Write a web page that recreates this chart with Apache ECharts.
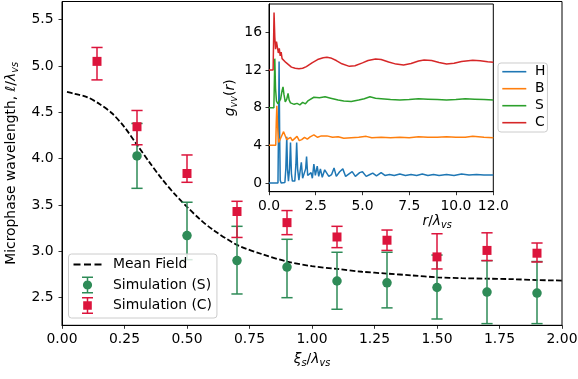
<!DOCTYPE html>
<html><head><meta charset="utf-8">
<script src="https://cdn.jsdelivr.net/npm/echarts@6/dist/echarts.min.js"></script>
<style>html,body{margin:0;padding:0;background:#fff}#c{width:578px;height:379px}</style>
</head><body><div id="c"></div>
<script>
const FONT = 'DejaVu Sans';
// ---- main panel data ----
const mfX = [0.02,0.05,0.1,0.15,0.2,0.25,0.3,0.35,0.4,0.45,0.5,0.55,0.6,0.7,0.8,0.9,1.0,1.1,1.2,1.3,1.4,1.5,1.6,1.7,1.8,1.9,2.0];
const mfY = [4.72,4.70,4.665,4.59,4.49,4.34,4.15,3.96,3.78,3.62,3.48,3.35,3.24,3.07,2.97,2.89,2.84,2.81,2.78,2.76,2.74,2.72,2.71,2.705,2.70,2.69,2.685];

const xiS = [0.3,0.5,0.7,0.9,1.1,1.3,1.5,1.7,1.9];
const ellS = [4.03,3.17,2.90,2.83,2.68,2.66,2.61,2.56,2.55];
const ellSLow = [3.68,2.91,2.54,2.50,2.375,2.39,2.27,2.22,2.22];
const ellSHigh = [4.38,3.53,3.27,3.13,2.99,2.99,2.96,2.90,2.89];

const xiC = [0.14,0.3,0.5,0.7,0.9,1.1,1.3,1.5,1.7,1.9];
const ellC = [5.05,4.345,3.84,3.43,3.31,3.155,3.12,2.94,3.01,2.98];
const ellCLow = [4.85,4.15,3.745,3.15,3.18,3.04,3.01,2.81,2.90,2.885];
const ellCHigh = [5.20,4.52,4.04,3.54,3.44,3.27,3.23,3.19,3.20,3.09];

const mainYTicks = [2.5,3.0,3.5,4.0,4.5,5.0,5.5];

// ---- inset data: g_vv(r), plotted with vertical offsets ----
const insetNames = ['H','B','S','C'];
const insetOffsets = [0,4,8,12];
const insetYTicks = [0,4,8,12,16];
const gH = [[0,0],[0.48,0],[0.51,6],[0.54,12.9],[0.57,5],[0.6,0.3],[0.65,0],[0.85,0.05],[0.9,1.5],[0.95,4.9],[0.99,1.5],[1.04,0.2],[1.1,1.5],[1.15,4.3],[1.2,1.0],[1.25,0.2],[1.38,0.2],[1.44,2.0],[1.48,4.3],[1.53,1.5],[1.6,0.3],[1.68,0.5],[1.73,2.2],[1.8,0.5],[1.9,0.4],[1.96,1.5],[2.01,2.8],[2.07,0.8],[2.15,0.6],[2.25,1.1],[2.32,0.5],[2.4,2.0],[2.48,0.8],[2.58,1.8],[2.66,0.7],[2.75,1.5],[2.85,0.6],[2.98,1.4],[3.08,1.6],[3.2,0.7],[3.35,0.9],[3.48,1.6],[3.6,0.7],[3.78,1.2],[3.95,1.5],[4.1,0.7],[4.3,1.0],[4.45,1.2],[4.62,0.7],[4.85,1.1],[5.0,1.2],[5.2,0.7],[5.4,0.9],[5.55,1.05],[5.75,0.75],[6.0,1.1],[6.2,0.8],[6.45,0.9],[6.7,0.8],[7.0,0.95],[7.3,0.8],[7.6,0.9],[7.9,0.8],[8.2,0.95],[8.5,0.8],[8.8,0.9],[9.1,0.8],[9.5,0.9],[9.9,0.8],[10.3,0.95],[10.7,0.85],[11.1,0.9],[11.5,0.85],[12.0,0.85]];
const gB = [[0,0],[0.36,0],[0.39,2.5],[0.42,4.2],[0.46,2.0],[0.52,0.3],[0.6,0.4],[0.7,1.1],[0.78,1.45],[0.85,1.1],[0.95,0.6],[1.05,0.4],[1.15,0.85],[1.25,0.5],[1.35,0.6],[1.5,0.95],[1.62,0.5],[1.75,0.6],[1.9,0.85],[2.05,0.65],[2.2,0.9],[2.4,1.1],[2.6,0.85],[2.8,1.0],[3.1,1.0],[3.4,0.85],[3.7,0.9],[4.0,0.75],[4.4,0.8],[4.8,0.85],[5.2,0.95],[5.5,0.8],[6.0,0.85],[6.5,0.8],[7.0,0.85],[7.5,0.8],[8.0,0.9],[8.5,0.85],[9.0,0.85],[9.5,0.9],[10.0,0.85],[10.5,0.85],[10.9,0.95],[11.5,0.85],[12.0,0.8]];
const gS = [[0,0],[0.26,0],[0.28,2],[0.31,5.2],[0.35,2.0],[0.4,0.7],[0.48,0.4],[0.55,0.6],[0.62,0.9],[0.7,1.8],[0.75,2.2],[0.8,1.4],[0.87,0.6],[0.95,0.9],[1.02,1.5],[1.08,0.8],[1.15,0.5],[1.25,0.6],[1.35,0.35],[1.5,0.45],[1.65,0.3],[1.8,0.55],[1.95,0.4],[2.1,0.75],[2.4,1.1],[2.7,1.05],[3.0,1.15],[3.3,1.0],[3.7,0.8],[4.0,0.7],[4.4,0.65],[4.8,0.8],[5.1,0.95],[5.4,1.15],[5.7,1.0],[6.0,0.95],[6.5,0.85],[7.0,0.8],[7.5,0.85],[8.0,0.95],[8.5,0.9],[9.0,0.85],[9.5,0.8],[10.0,0.85],[10.5,0.95],[11.0,0.9],[11.5,0.85],[12.0,0.8]];
const gC = [[0,0],[0.22,0],[0.24,0.1],[0.27,6.1],[0.31,3.5],[0.35,2.2],[0.4,3.0],[0.45,2.9],[0.5,1.8],[0.55,2.3],[0.6,1.5],[0.65,1.9],[0.7,1.2],[0.8,1.4],[0.9,0.8],[1.0,0.6],[1.2,0.3],[1.4,0.18],[1.6,0.12],[1.8,0.18],[2.0,0.35],[2.3,0.75],[2.6,1.1],[2.9,1.3],[3.1,1.35],[3.3,1.28],[3.6,1.0],[3.9,0.65],[4.3,0.38],[4.6,0.45],[5.0,0.75],[5.3,1.0],[5.7,1.17],[6.0,1.1],[6.4,0.85],[6.8,0.62],[7.2,0.53],[7.6,0.68],[8.0,0.95],[8.3,1.06],[8.7,1.0],[9.1,0.8],[9.5,0.63],[9.9,0.7],[10.3,0.9],[10.9,1.02],[11.3,0.98],[11.7,0.88],[12.0,0.82]];
const insetData = [gH, gB, gS, gC];
const insetColors = ['#1f77b4','#ff7f0e','#2ca02c','#d62728'];

const GREEN = '#2e8b57', RED = '#dc143c';
const FS = 13.9;
const rich = {
  n: {fontFamily: FONT, fontSize: FS, color: '#000', lineHeight: 18},
  i: {fontFamily: FONT, fontSize: FS, fontStyle: 'italic', color: '#000', lineHeight: 18},
  s: {fontFamily: FONT, fontSize: 9.7, fontStyle: 'italic', color: '#000', lineHeight: 12, verticalAlign: 'bottom'}
};

function errItem(color) {
  return function (params, api) {
    const x = api.value(0), lo = api.value(1), hi = api.value(2);
    const a = api.coord([x, lo]), b = api.coord([x, hi]);
    const hw = 5.6;
    const st = {stroke: color, lineWidth: 1.5};
    return {type: 'group', children: [
      {type: 'line', shape: {x1: a[0], y1: a[1], x2: b[0], y2: b[1]}, style: st},
      {type: 'line', shape: {x1: a[0]-hw, y1: a[1], x2: a[0]+hw, y2: a[1]}, style: st},
      {type: 'line', shape: {x1: b[0]-hw, y1: b[1], x2: b[0]+hw, y2: b[1]}, style: st}
    ]};
  };
}

const axisCommon = {
  axisLine: {show: true, onZero: false, lineStyle: {color: '#000', width: 1}},
  axisTick: {show: true, inside: false, length: 3.5, lineStyle: {color: '#000', width: 0.8}},
  splitLine: {show: false}
};

const dashIcon = 'path://M0,0H7V2H0Z M10.5,0H17.5V2H10.5Z M21,0H28V2H21Z';
const circIcon = 'path://M0,0H11V1.6H0Z M0,15.4H11V17H0Z M4.75,0H6.25V17H4.75Z M0.9,8.5A4.6,4.6 0 1,1 10.1,8.5A4.6,4.6 0 1,1 0.9,8.5Z';
const sqIcon = 'path://M0,0H11V1.6H0Z M0,15.4H11V17H0Z M4.75,0H6.25V17H4.75Z M1.2,4.2H9.8V12.8H1.2Z';
const lineIcon = 'path://M0,0H24V1.6H0Z';

const series = [
  {name: 'Mean Field', type: 'line', xAxisIndex: 0, yAxisIndex: 0, data: mfX.map((x, i) => [x, mfY[i]]),
   showSymbol: false, smooth: 0.3, lineStyle: {color: '#000', width: 1.8, type: [5.55, 2.4]}, itemStyle: {color: '#000'}, z: 2},
  {name: 'errS', type: 'custom', xAxisIndex: 0, yAxisIndex: 0, renderItem: errItem(GREEN),
   data: xiS.map((x, i) => [x, ellSLow[i], ellSHigh[i]]), encode: {x: 0, y: [1, 2]}, z: 3, silent: true},
  {name: 'Simulation (S)', type: 'scatter', xAxisIndex: 0, yAxisIndex: 0, data: xiS.map((x, i) => [x, ellS[i]]),
   symbol: 'circle', symbolSize: 9.5, itemStyle: {color: GREEN, opacity: 1}, z: 4},
  {name: 'errC', type: 'custom', xAxisIndex: 0, yAxisIndex: 0, renderItem: errItem(RED),
   data: xiC.map((x, i) => [x, ellCLow[i], ellCHigh[i]]), encode: {x: 0, y: [1, 2]}, z: 5, silent: true},
  {name: 'Simulation (C)', type: 'scatter', xAxisIndex: 0, yAxisIndex: 0, data: xiC.map((x, i) => [x, ellC[i]]),
   symbol: 'rect', symbolSize: 9, itemStyle: {color: RED, opacity: 1}, z: 6}
];
insetNames.forEach((nm, k) => {
  series.push({name: nm, type: 'line', xAxisIndex: 1, yAxisIndex: 1,
    data: insetData[k].map(p => [p[0], p[1] + insetOffsets[k]]),
    showSymbol: false, lineStyle: {color: insetColors[k], width: 1.5}, itemStyle: {color: insetColors[k]}, z: 2 + k});
});

const option = {
  animation: false,
  backgroundColor: '#fff',
  textStyle: {fontFamily: FONT},
  grid: [
    {left: 62, right: 16, top: 1.5, bottom: 53.7, show: true, borderColor: '#000', borderWidth: 1, backgroundColor: 'transparent', containLabel: false, outerBoundsMode: 'none'},
    {left: 269, right: 84.7, top: 4, bottom: 187.3, show: true, borderColor: '#000', borderWidth: 1, backgroundColor: '#fff', containLabel: false, outerBoundsMode: 'none'}
  ],
  xAxis: [
    Object.assign({type: 'value', gridIndex: 0, min: 0, max: 2, interval: 0.25,
      axisLabel: {color: '#000', fontSize: FS, fontFamily: FONT, margin: 7, formatter: v => v.toFixed(2)},
      name: '{i|ξ}{s|s}{n|/}{i|λ}{s|vs}', nameLocation: 'middle', nameGap: 25.5, nameTextStyle: {rich: rich}}, axisCommon),
    Object.assign({type: 'value', gridIndex: 1, min: 0, max: 12, interval: 2.5,
      axisLabel: {color: '#000', fontSize: FS, fontFamily: FONT, margin: 7.7, formatter: v => v.toFixed(1)},
      name: '{i|r}{n|/}{i|λ}{s|vs}', nameLocation: 'middle', nameGap: 19.3, nameTextStyle: {rich: rich, padding: [0, 0, 0, 112]}}, axisCommon)
  ],
  yAxis: [
    Object.assign({type: 'value', gridIndex: 0, min: 2.202, max: 5.696,
      axisLabel: {color: '#000', fontSize: FS, fontFamily: FONT, margin: 8.5, customValues: mainYTicks, formatter: v => v.toFixed(1)},
      name: '{n|Microphase wavelength, ℓ/}{i|λ}{s|vs}', nameLocation: 'middle', nameRotate: 90, nameGap: 37.5, nameTextStyle: {rich: rich}}, axisCommon,
      {axisTick: Object.assign({}, axisCommon.axisTick, {customValues: mainYTicks})}),
    Object.assign({type: 'value', gridIndex: 1, min: -0.924, max: 19.0,
      axisLabel: {color: '#000', fontSize: FS, fontFamily: FONT, margin: 7, customValues: insetYTicks, formatter: v => String(v)},
      name: '{i|g}{s|vv}{n|(}{i|r}{n|)}', nameLocation: 'middle', nameRotate: 90, nameGap: 30, nameTextStyle: {rich: rich}}, axisCommon,
      {axisTick: Object.assign({}, axisCommon.axisTick, {customValues: insetYTicks})})
  ],
  legend: [
    {show: true, orient: 'vertical', left: 68.5, top: 254, padding: [2, 5, 4, 5], itemGap: 3.5, itemWidth: 28, itemHeight: 17,
     backgroundColor: 'rgba(255,255,255,0.8)', borderColor: '#cccccc', borderWidth: 1, borderRadius: 3,
     textStyle: {color: '#000', fontSize: FS, fontFamily: FONT, lineHeight: 17, padding: [0, 0, 0, 6.5]},
     data: [{name: 'Mean Field', icon: dashIcon}, {name: 'Simulation (S)', icon: circIcon}, {name: 'Simulation (C)', icon: sqIcon}],
     selectedMode: false, z: 10},
    {show: true, orient: 'vertical', left: 498, top: 63, padding: [1.7, 2, 2.3, 4.3], itemGap: 3, itemWidth: 24, itemHeight: 14,
     backgroundColor: 'rgba(255,255,255,0.8)', borderColor: '#cccccc', borderWidth: 1, borderRadius: 3,
     textStyle: {color: '#000', fontSize: FS, fontFamily: FONT, lineHeight: 14, padding: [0, 0, 0, 3.7]},
     data: insetNames.map(n => ({name: n, icon: lineIcon})), selectedMode: false, z: 10}
  ],
  series: series
};
const chart = echarts.init(document.getElementById('c'), null, {renderer: 'canvas'});
chart.setOption(option);
</script>
</body></html>
